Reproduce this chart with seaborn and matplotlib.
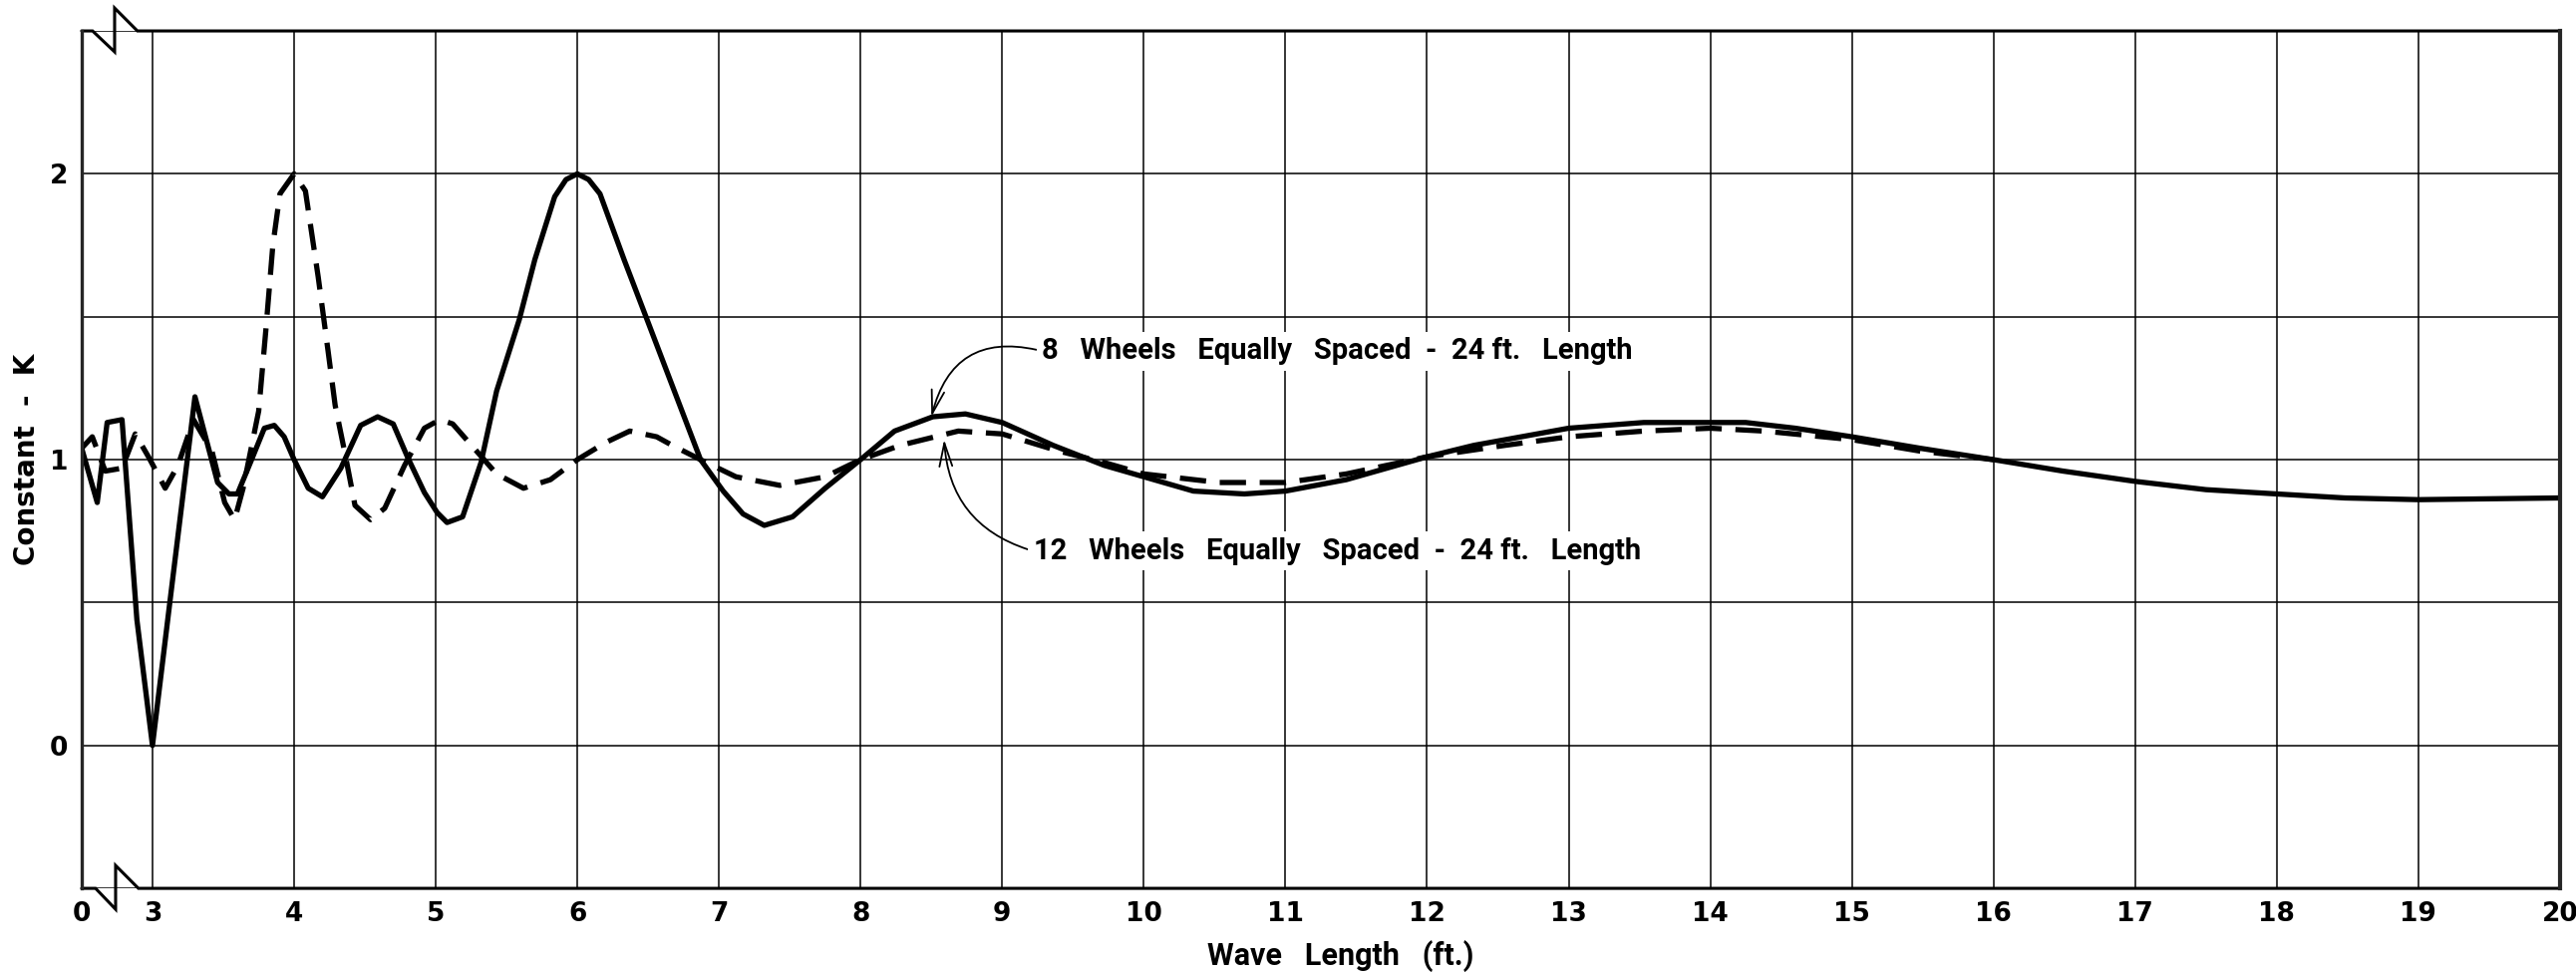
# Constant K vs wave length, 8 and 12 wheel spacing

import numpy as np
import seaborn as sns
import matplotlib
matplotlib.use("Agg")
import matplotlib.pyplot as plt

# Data (wave length in ft, constant K)

solid_x = [0, 0.66, 1.08, 1.71, 2.34, 3.0, 3.12, 3.30, 3.46, 3.54, 3.60, 3.70,
           3.79, 3.86, 3.93, 4.0, 4.10, 4.20, 4.33, 4.47, 4.59, 4.70, 4.80,
           4.92, 5.01, 5.08, 5.19, 5.32, 5.43, 5.59, 5.70, 5.84, 5.92, 6.0,
           6.08, 6.16, 6.33, 6.50, 6.87, 7.03, 7.17, 7.32, 7.52, 7.75, 8.0,
           8.24, 8.51, 8.74, 9.0, 9.36, 9.72, 10.0, 10.35, 10.71, 11.0, 11.43,
           12.0, 12.33, 13.0, 13.53, 14.0, 14.25, 14.6, 15.0, 15.48, 16.0,
           16.49, 17.0, 17.5, 18.0, 18.48, 19.0, 19.5, 20.0]
solid_k = [1.04, 0.85, 1.13, 1.14, 0.44, 0.0, 0.49, 1.22, 0.92, 0.88, 0.88, 1.0,
           1.11, 1.12, 1.08, 1.0, 0.90, 0.87, 0.97, 1.12, 1.15, 1.125, 1.01,
           0.885, 0.815, 0.78, 0.80, 0.99, 1.24, 1.49, 1.70, 1.92, 1.98, 2.0,
           1.98, 1.93, 1.70, 1.48, 1.0, 0.89, 0.81, 0.77, 0.80, 0.90, 1.0,
           1.10, 1.15, 1.16, 1.13, 1.05, 0.98, 0.94, 0.89, 0.88, 0.89, 0.93,
           1.01, 1.05, 1.11, 1.13, 1.13, 1.13, 1.11, 1.08, 1.04, 1.0,
           0.96, 0.924, 0.895, 0.88, 0.866, 0.86, 0.863, 0.866]

dashed_x = [0, 0.45, 1.0, 1.71, 2.27, 2.83, 3.09, 3.18, 3.29, 3.42, 3.51, 3.58,
            3.64, 3.75, 3.80, 3.85, 3.90, 4.0, 4.08, 4.17, 4.24, 4.29, 4.36,
            4.43, 4.54, 4.64, 4.78, 4.92, 5.03, 5.12, 5.43, 5.62, 5.81, 6.0,
            6.2, 6.37, 6.56, 6.67, 6.87, 7.12, 7.43, 7.75, 8.0, 8.28, 8.69,
            9.0, 9.40, 9.72, 10.0, 10.53, 11.0, 11.43, 12.0, 12.55, 13.0,
            13.53, 14.0, 14.38, 15.0, 15.48, 16.0]
dashed_k = [1.04, 1.08, 0.96, 0.97, 1.09, 1.01, 0.90, 0.98, 1.14, 1.03, 0.85, 0.79,
            0.90, 1.17, 1.45, 1.75, 1.93, 2.0, 1.94, 1.64, 1.38, 1.19, 1.02,
            0.84, 0.79, 0.83, 0.98, 1.11, 1.14, 1.125, 0.95, 0.90, 0.93, 1.0,
            1.06, 1.10, 1.08, 1.05, 1.0, 0.94, 0.91, 0.94, 1.0, 1.05, 1.10,
            1.09, 1.03, 0.99, 0.95, 0.92, 0.92, 0.95, 1.01, 1.05, 1.08,
            1.10, 1.11, 1.10, 1.07, 1.03, 1.0]

x_ticks = [0, 3, 4, 5, 6, 7, 8, 9, 10, 11, 12, 13, 14, 15, 16, 17, 18, 19, 20]
y_grid = [-0.5, 0, 0.5, 1, 1.5, 2, 2.5]
y_labels = ["", "0", "", "1", "", "2", ""]

label_8 = "8   Wheels   Equally   Spaced  -  24 ft.   Length"
label_12 = "12   Wheels   Equally   Spaced  -  24 ft.   Length"

sns.set_style("white")
narrow = ["Roboto", "DejaVu Sans"]
plt.rcParams["font.family"] = ["DejaVu Sans"]
plt.rcParams["text.color"] = "black"
plt.rcParams["axes.labelcolor"] = "black"
plt.rcParams["xtick.color"] = "black"
plt.rcParams["ytick.color"] = "black"


# the 0-3 ft part of the axis is squeezed into half a division
def fwd(x):
    x = np.asarray(x, dtype=float)
    return np.where(x < 3, 2.5 + x / 6.0, x)


def inv(x):
    x = np.asarray(x, dtype=float)
    return np.where(x < 3, (x - 2.5) * 6.0, x)


fig = plt.figure(figsize=(25.84, 9.76), dpi=100)
ax = fig.add_axes([0.0317, 0.087, 0.9621, 0.8812])
ax.set_xscale("function", functions=(fwd, inv))

sns.lineplot(x=solid_x, y=solid_k, ax=ax, color="black", lw=3.8,
             sort=False, estimator=None)
sns.lineplot(x=dashed_x, y=dashed_k, ax=ax, color="black", lw=3.8,
             sort=False, estimator=None)
ax.lines[-1].set_dashes((5, 2.6))

ax.set_xlim(0, 20)
ax.set_ylim(-0.5, 2.5)
ax.set_xticks(x_ticks)
ax.set_xticklabels([str(t) for t in x_ticks])
ax.set_yticks(y_grid)
ax.set_yticklabels(y_labels)
ax.xaxis.set_minor_locator(matplotlib.ticker.NullLocator())
ax.grid(True, color="black", lw=1.1)
ax.tick_params(axis="both", length=0, labelsize=19)
ax.tick_params(axis="x", pad=9)
ax.tick_params(axis="y", pad=10)
for t in ax.get_xticklabels() + ax.get_yticklabels():
    t.set_fontweight("bold")

ax.set_xlabel("Wave   Length   (ft.)", fontsize=22, family=narrow,
              fontweight="bold")
ax.xaxis.set_label_coords(0.508, -0.06)
ax.set_ylabel("Constant  -  K", fontsize=20, fontweight="bold")
ax.yaxis.set_label_coords(-0.0165, 0.5)

# frame with break marks on the left end of top and bottom
for side in ["top", "bottom"]:
    ax.spines[side].set_visible(False)
ax.spines["left"].set_linewidth(2.4)
ax.spines["right"].set_linewidth(3.0)
ax.plot([0, 0.0044, 0.0133, 0.0133, 0.0225, 1], [1, 1, 0.9756, 1.0267, 1, 1],
        color="black", lw=2.2, transform=ax.transAxes, clip_on=False,
        solid_joinstyle="miter")
ax.plot([0, 0.0056, 0.0137, 0.0137, 0.0229, 1], [0, 0, -0.0244, 0.0267, 0, 0],
        color="black", lw=2.2, transform=ax.transAxes, clip_on=False,
        solid_joinstyle="miter")

# labels with curved leaders
box = dict(fc="white", ec="none", pad=4)
head = "->,head_length=0.8,head_width=0.22"
ax.annotate(label_8, xy=(8.50, 1.15), xytext=(9.28, 1.38), fontsize=21,
            family=narrow, fontweight="bold", ha="left", va="center",
            bbox=box, zorder=5,
            arrowprops=dict(arrowstyle=head, color="black", lw=1.3,
                            shrinkA=0, shrinkB=0, relpos=(0, 0.5),
                            connectionstyle="arc3,rad=0.5"))
ax.annotate(label_12, xy=(8.59, 1.07), xytext=(9.22, 0.68), fontsize=21,
            family=narrow, fontweight="bold", ha="left", va="center",
            bbox=box, zorder=5,
            arrowprops=dict(arrowstyle=head, color="black", lw=1.3,
                            shrinkA=0, shrinkB=0, relpos=(0, 0.5),
                            connectionstyle="arc3,rad=-0.35"))

plt.savefig("out.png", dpi=100, facecolor="white")
